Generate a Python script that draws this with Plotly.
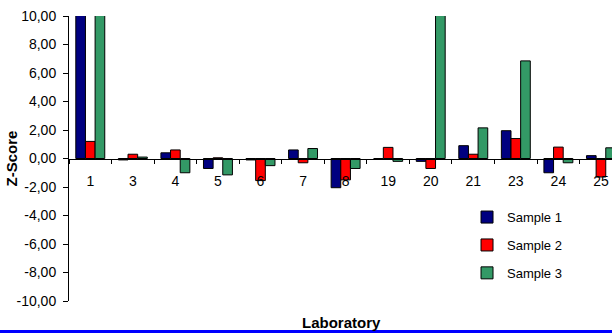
import plotly.graph_objects as go

categories = ["1", "3", "4", "5", "6", "7", "8", "19", "20", "21", "23", "24", "25"]
sample1 = [15.0, -0.1, 0.4, -0.7, -0.1, 0.6, -2.05, 0.0, -0.2, 0.9, 1.95, -1.0, 0.2]
sample2 = [1.2, 0.3, 0.6, 0.05, -1.55, -0.3, -1.5, 0.78, -0.7, 0.3, 1.4, 0.8, -1.3]
sample3 = [15.0, 0.1, -1.0, -1.15, -0.5, 0.7, -0.7, -0.2, 15.0, 2.15, 6.85, -0.3, 0.75]
series_names = ["Sample 1", "Sample 2", "Sample 3"]
series_colors = ["#000080", "#FF0000", "#339966"]
y_tick_vals = [10, 8, 6, 4, 2, 0, -2, -4, -6, -8, -10]
y_tick_text = ["10,00", "8,00", "6,00", "4,00", "2,00", "0,00", "-2,00", "-4,00", "-6,00", "-8,00", "-10,00"]

FONT = "Liberation Sans, Arial, sans-serif"

fig = go.Figure()
for i, (name, vals, col) in enumerate(zip(series_names, [sample1, sample2, sample3], series_colors)):
    fig.add_trace(go.Bar(
        x=categories, y=vals, name=name, legendgroup=f"g{i}",
        marker=dict(color=col, line=dict(color="black", width=1)),
    ))

fig.update_layout(
    width=612, height=333,
    margin=dict(l=69, r=0, t=16, b=32),
    paper_bgcolor="white", plot_bgcolor="white",
    barmode="group", bargap=0.32, bargroupgap=0,
    font=dict(family=FONT, size=13, color="black"),
    showlegend=True,
    legend=dict(x=0.733, y=0.347, xanchor="left", yanchor="top",
                font=dict(family=FONT, size=13, color="black"),
                tracegroupgap=8, bgcolor="rgba(0,0,0,0)"),
    xaxis=dict(type="category", range=[-0.5, 12.26], anchor="free", position=0.5,
               showline=True, linecolor="black", linewidth=1,
               ticks="outside", tickson="boundaries", ticklen=4, tickcolor="black",
               ticklabelstandoff=10, showgrid=False, zeroline=False,
               tickfont=dict(family=FONT, size=14, color="black")),
    yaxis=dict(range=[-10, 10], tickvals=y_tick_vals, ticktext=y_tick_text,
               showline=True, linecolor="black", linewidth=1,
               ticks="outside", ticklen=5, tickcolor="black",
               ticklabelstandoff=4,
               showgrid=False, zeroline=False,
               tickfont=dict(family=FONT, size=14, color="black")),
    annotations=[
        dict(text="<b>Z-Score</b>", xref="paper", yref="paper", x=-0.105, y=0.5,
             xanchor="center", yanchor="middle", textangle=-90, showarrow=False,
             font=dict(family=FONT, size=15, color="black")),
        dict(text="<b>Laboratory</b>", xref="paper", yref="paper", x=0.501, y=-0.0737,
             xanchor="center", yanchor="middle", showarrow=False,
             font=dict(family=FONT, size=15, color="black")),
    ],
    shapes=[dict(type="line", xref="paper", yref="paper", x0=-0.13, x1=1.01,
                 y0=-0.107, y1=-0.107, line=dict(color="#0000FF", width=3))],
)

fig.write_html("out.html")
